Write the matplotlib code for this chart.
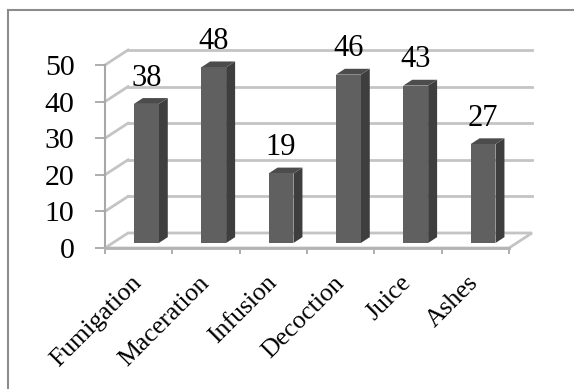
import matplotlib.pyplot as plt
import matplotlib.transforms as mtransforms
from matplotlib.patches import Polygon
from matplotlib.lines import Line2D
import numpy as np

methods = ["Fumigation", "Maceration", "Infusion", "Decoction", "Juice", "Ashes"]
counts = [38, 48, 19, 46, 43, 27]
yticks = [0, 10, 20, 30, 40, 50]

plt.rcParams['font.family'] = ['Liberation Serif', 'DejaVu Serif']

# pseudo-3d depth of the plot box, in data units
DX, DY = 0.342, 4.1
bar_w = 0.37
bar_front = 1 / 3      # depth fraction where a bar's front face sits
bar_depth = 0.39       # depth fraction a bar occupies

W, H = 574, 389
fig = plt.figure(figsize=(W / 100, H / 100), dpi=100)
ax = fig.add_axes([105 / W, (H - 248) / H, (509 - 105) / W, (248 - 65) / H])
ax.set_xlim(0, len(methods))
ax.set_ylim(0, 50)

grid_c = '#c4c4c4'
# back wall and side wall gridlines
for v in yticks[1:]:
    ax.plot([DX, len(methods) + DX], [v + DY, v + DY], color=grid_c, lw=2,
            clip_on=False, zorder=1)
    ax.plot([0, DX], [v, v + DY], color=grid_c, lw=2, clip_on=False, zorder=1)

# floor
floor = Polygon([[0, 0], [len(methods), 0], [len(methods) + DX, DY], [DX, DY]],
                closed=True, facecolor='white', edgecolor=grid_c, lw=2,
                clip_on=False, zorder=1)
ax.add_patch(floor)

# bars: front face, right side, top
for i, v in enumerate(counts):
    x0 = i + 0.5 - bar_w / 2 + DX * bar_front
    y0 = DY * bar_front
    x1 = x0 + bar_w
    sx, sy = DX * bar_depth, DY * bar_depth
    front = Polygon([[x0, y0], [x1, y0], [x1, y0 + v], [x0, y0 + v]],
                    facecolor='#606060', edgecolor='none', clip_on=False, zorder=4)
    side = Polygon([[x1, y0], [x1 + sx, y0 + sy], [x1 + sx, y0 + v + sy], [x1, y0 + v]],
                   facecolor='#3e3e3e', edgecolor='none', clip_on=False, zorder=3)
    top = Polygon([[x0, y0 + v], [x1, y0 + v], [x1 + sx, y0 + v + sy], [x0 + sx, y0 + v + sy]],
                  facecolor='#4c4c4c', edgecolor='none', clip_on=False, zorder=3)
    for p in (front, side, top):
        ax.add_patch(p)
    ax.text(x0 + bar_w / 2, y0 + v + 5.0, str(v), ha='center', va='baseline',
            fontsize=22, color='black', zorder=5)

# axes styling
for s in ('top', 'right'):
    ax.spines[s].set_visible(False)
ax.spines['left'].set_color('#a8a8a8')
ax.spines['left'].set_linewidth(1.5)
ax.spines['bottom'].set_color('#b4b4b4')
ax.spines['bottom'].set_linewidth(2)
ax.set_facecolor('none')

ax.set_yticks(yticks)
ax.set_yticklabels([str(t) for t in yticks])
ax.tick_params(axis='y', length=7, width=1.2, color='#a0a0a0', pad=15,
               labelsize=21.5)

ax.set_xticks(np.arange(len(methods) + 1))
ax.set_xticklabels([])
ax.set_xticks(np.arange(len(methods)) + 0.5, minor=True)
ax.set_xticklabels(methods, minor=True, rotation=45, ha='right',
                   rotation_mode='anchor', fontsize=18.5)
ax.tick_params(axis='x', which='major', length=4, width=1.2, color='#a0a0a0')
ax.tick_params(axis='x', which='minor', length=0, pad=12)

# nudge the slanted category labels down-left
shift = mtransforms.ScaledTranslation(-8 / 100, -7 / 100, fig.dpi_scale_trans)
for lbl in ax.get_xticklabels(minor=True):
    lbl.set_transform(lbl.get_transform() + shift)

# outer chart border
fig.add_artist(Line2D([8 / W, 1], [1 - 10 / H, 1 - 10 / H], color='#8c8c8c', lw=1.5))
fig.add_artist(Line2D([8 / W, 8 / W], [0, 1 - 10 / H], color='#8c8c8c', lw=1.5))

fig.savefig('out.png', dpi=100)
